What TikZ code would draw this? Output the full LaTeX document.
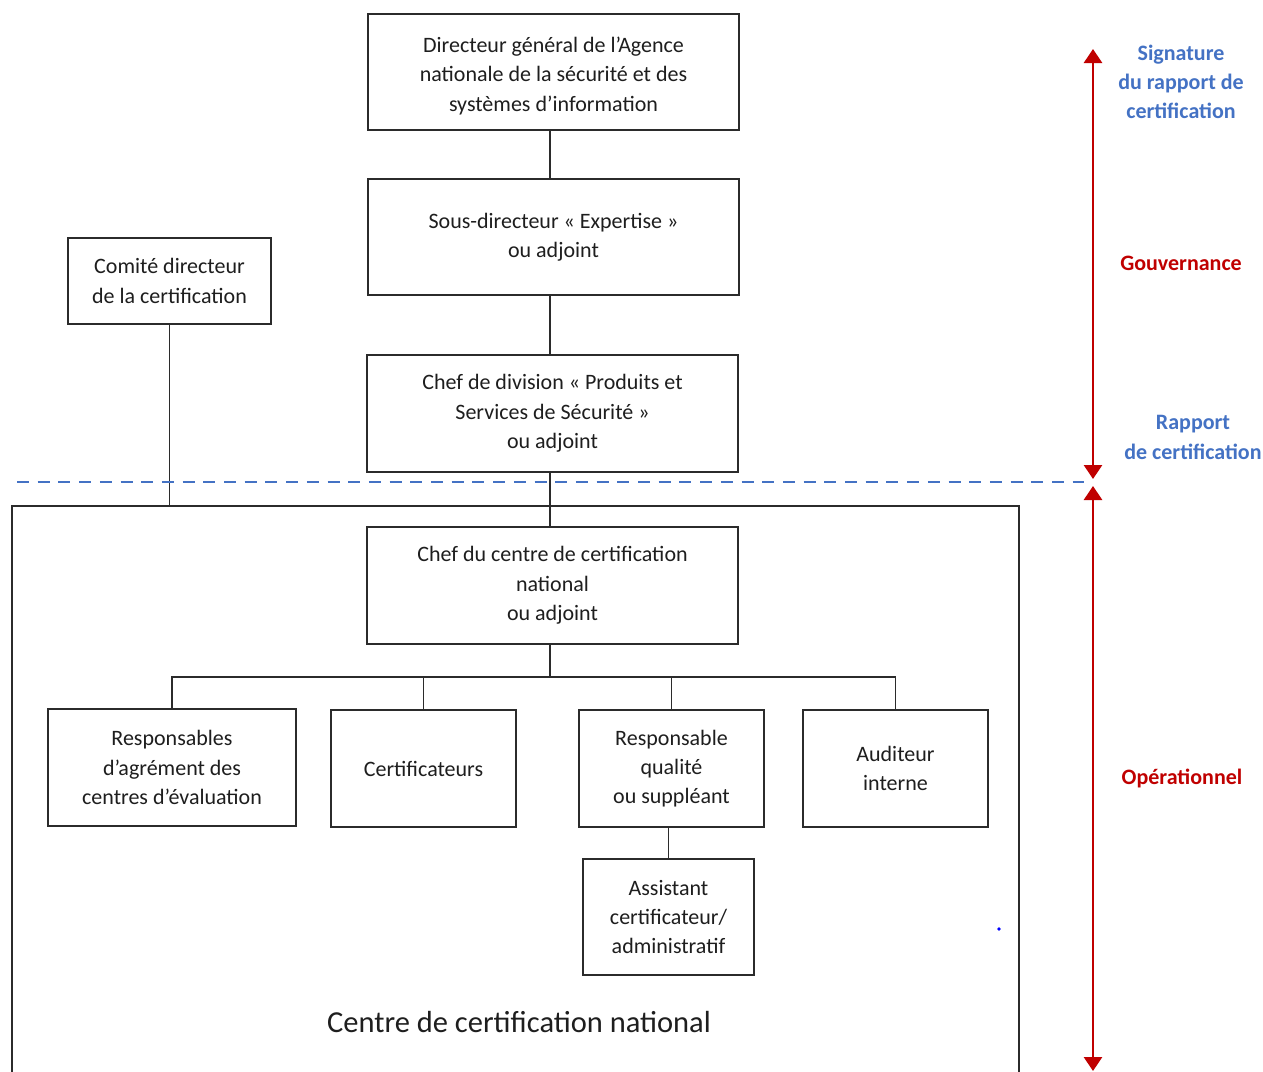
\documentclass[tikz,border=0pt]{standalone}
\usepackage{fontspec}
\setmainfont{Carlito}
\usetikzlibrary{arrows.meta}
\definecolor{boxline}{HTML}{2B2B2B}
\definecolor{boxtextc}{HTML}{1E1E1E}
\definecolor{dashblue}{HTML}{4472C4}
\definecolor{labred}{HTML}{C00000}
\definecolor{arrred}{HTML}{C00000}
\begin{document}
\begin{tikzpicture}[x=1pt,y=-1pt,
  orgbox/.style={draw=boxline, line width=1.7pt, align=center, inner sep=0pt,
    text=boxtextc, font=\fontsize{22}{29.3}\selectfont},
  boxtext/.style={align=center, inner sep=0pt, text=boxtextc, font=\fontsize{22}{29.3}\selectfont},
  conn/.style={draw=boxline, line width=1.7pt},
  bluelab/.style={text=dashblue, font=\fontsize{22}{29.3}\selectfont\bfseries, align=center, inner sep=0pt},
  redlab/.style={text=labred, font=\fontsize{22}{29.3}\selectfont\bfseries, align=center, inner sep=0pt},
  redarrow/.style={draw=arrred, line width=2.8pt, {Triangle[width=18pt,length=14pt]}-{Triangle[width=18pt,length=14pt]}}
]
\useasboundingbox (0,0) rectangle (1263,1071);
\fill[white] (0,0) rectangle (1263,1071);

% boxes
\node[orgbox, minimum width=371pt, minimum height=116pt,
  label={[boxtext, yshift=-4pt]center:{Directeur général de l’Agence\\nationale de la sécurité et des\\systèmes d’information}}] (dir) at (553.5,72) {};
\node[orgbox, minimum width=371pt, minimum height=116pt] (sous) at (553.5,237)
  {Sous-directeur « Expertise »\\ou adjoint};
\node[orgbox, minimum width=371pt, minimum height=117pt] (div) at (552.5,413.5)
  {Chef de division « Produits et\\Services de Sécurité »\\ou adjoint};
\node[orgbox, minimum width=203pt, minimum height=86pt] (comite) at (169.5,281)
  {Comité directeur\\de la certification};
\node[orgbox, minimum width=371pt, minimum height=117pt] (centre) at (552.5,585.5)
  {Chef du centre de certification\\national\\ou adjoint};
\node[orgbox, minimum width=248pt, minimum height=117pt] (resp) at (172,767.5)
  {Responsables\\d’agrément des\\centres d’évaluation};
\node[orgbox, minimum width=185pt, minimum height=117pt] (cert) at (423.5,768.5)
  {Certificateurs};
\node[orgbox, minimum width=185pt, minimum height=117pt] (qual) at (671.5,768.5)
  {Responsable\\qualité\\ou suppléant};
\node[orgbox, minimum width=185pt, minimum height=117pt] (aud) at (895.5,768.5)
  {Auditeur\\interne};
\node[orgbox, minimum width=171pt, minimum height=116pt] (asst) at (668.5,917)
  {Assistant\\certificateur/\\administratif};

% big frame (bottom edge out of view)
\coordinate (framel) at (12,506);
\coordinate (framer) at (1019,506);
\draw[conn] (12,1080) -- (framel) -- (framer) -- (1019,1080);
\node[font=\fontsize{30.5}{36}\selectfont, text=boxtextc, inner sep=0pt] (ccn) at (519,1022) {Centre de certification national};

% connectors
\coordinate (spine) at (550,0);
\coordinate (bar) at (550,677);
\draw[conn] (dir.south -| spine) -- (sous.north -| spine);
\draw[conn] (sous.south -| spine) -- (div.north -| spine);
\draw[conn] (div.south -| spine) -- (centre.north -| spine);
\draw[conn] (comite.south) -- (comite.south |- framel);
\draw[conn] (centre.south -| spine) -- (bar);
\draw[conn] (resp.north) -- (resp.north |- bar) -- (aud.north |- bar) -- (aud.north);
\draw[conn] (cert.north) -- (cert.north |- bar);
\draw[conn] (qual.north) -- (qual.north |- bar);
\draw[conn] (asst.north) -- (asst.north |- qual.south);

% dashed separator
\coordinate (dashl) at (17,482);
\coordinate (dashr) at (1084,482);
\draw[dashblue, line width=2.8pt, dash pattern=on 12pt off 8.7pt] (dashl) -- (dashr);

% red arrows
\coordinate (a1) at (1093,49);
\coordinate (a2) at (1093,479);
\coordinate (a3) at (1093,486);
\coordinate (a4) at (1093,1071);
\draw[redarrow] (a1) -- (a2);
\draw[redarrow] (a3) -- (a4);

% labels
\node[bluelab] (sig) at (1181,82) {Signature\\du rapport de\\certification};
\node[redlab] (gouv) at (1181,263) {Gouvernance};
\node[bluelab] (rap) at (1193,437.5) {Rapport\\de certification};
\node[redlab] (oper) at (1182,778) {Opérationnel};

% stray dot
\fill[blue] (999,929) circle (1.8pt);
\end{tikzpicture}
\end{document}
